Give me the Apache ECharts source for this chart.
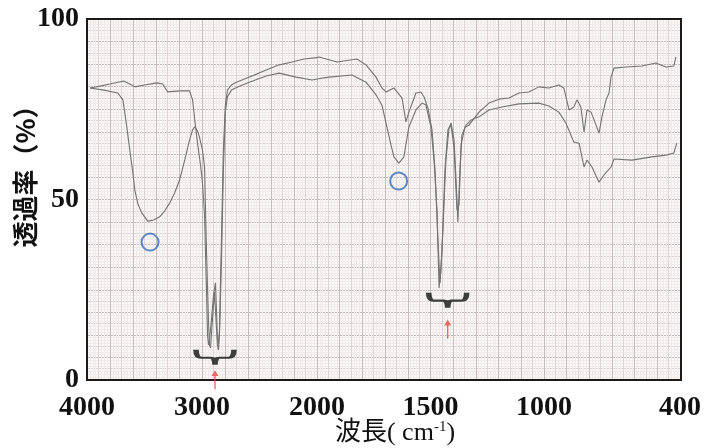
<!DOCTYPE html>
<html><head><meta charset="utf-8">
<script src="https://cdn.jsdelivr.net/npm/echarts@6/dist/echarts.min.js"></script>
<style>html,body{margin:0;padding:0;background:#fff}#c{width:704px;height:448px}</style>
</head><body><div id="c"></div>
<script>
// ---- data (wavenumber in cm-1, transmittance in %) ----
const wavenumberA = [3974,3853,3732,3688,3662,3645,3628,3602,3584,3558,3524,3472,3420,3368,3325,3281,3238,3195,3152,3108,3082,3065,3039,3022,2996,2978,2961,2944,2935,2926,2918,2900,2892,2883,2866,2857,2848,2831,2814,2797,2779,2745,2675,2589,2442,2329,2182,2043,2000,1947,1846,1784,1740,1714,1692,1674,1661,1639,1617,1595,1564,1537,1520,1498,1484,1471,1462,1454,1445,1432,1418,1409,1396,1387,1379,1370,1361,1343,1321,1286,1242,1185,1110,1022,978,934,903,868,845,823,810,788,757,735,704,691,612,524,462,427,414];
const transA = [80.9,80.3,79.5,77.6,72.0,67.9,63.7,57.6,52.6,48.8,46.3,44.0,44.3,45.2,46.8,49.0,51.8,55.4,60.7,66.5,69.3,70.1,69.0,67.3,63.7,59.0,36.0,16.6,9.7,8.9,12.5,20.8,24.4,19.4,9.7,8.3,12.5,33.2,58.2,74.2,78.4,80.3,81.4,82.5,84.2,85.0,83.9,83.1,83.4,83.9,84.5,82.5,79.0,76.2,70.1,65.1,61.8,60.1,61.8,70.1,74.8,76.7,76.2,70.1,60.9,47.1,25.5,29.9,41.6,60.9,69.8,71.2,66.5,55.4,43.8,58.2,67.9,70.6,72.0,72.9,74.8,75.6,76.5,76.7,75.9,74.2,71.2,65.9,65.6,59.0,60.9,59.0,54.8,56.8,59.0,61.2,60.9,61.8,62.3,62.9,65.6];
const wavenumberB = [3974,3887,3801,3732,3680,3628,3584,3498,3394,3342,3299,3195,3108,3082,3056,3039,3013,2996,2978,2961,2952,2944,2935,2918,2900,2883,2874,2866,2857,2848,2831,2814,2797,2779,2745,2701,2615,2520,2442,2329,2216,2113,2000,1991,1912,1824,1784,1740,1714,1696,1661,1625,1608,1595,1564,1542,1528,1511,1493,1480,1467,1458,1449,1436,1423,1409,1396,1383,1374,1365,1348,1330,1286,1242,1198,1154,1110,1066,1022,978,934,912,889,868,854,837,823,810,792,770,757,744,726,713,704,691,638,568,506,462,427,418];
const transB = [80.9,81.4,82.0,82.5,82.8,82.0,81.2,81.7,82.3,82.0,79.8,80.1,80.1,77.6,70.1,65.6,59.6,54.6,45.7,24.9,12.5,9.7,11.1,16.6,23.5,26.9,19.4,11.6,10.0,13.9,38.8,63.7,76.2,80.3,81.7,82.5,83.6,84.8,85.9,87.3,88.1,88.9,89.3,89.5,88.1,88.9,87.3,83.9,80.9,79.8,80.9,78.1,71.5,74.2,79.5,79.8,78.4,75.3,69.3,58.2,38.8,26.9,36.0,58.2,69.3,70.6,64.3,47.1,48.5,65.1,70.1,70.6,74.2,76.7,77.8,78.1,79.5,79.8,81.2,80.9,81.7,80.9,74.8,75.6,77.6,75.6,68.7,74.8,74.2,70.6,68.4,72.9,77.6,79.5,83.9,86.4,86.7,87.0,87.8,86.7,87.0,89.5];
const xTickLabels = [4000, 3000, 2000, 1500, 1000, 400];
const yTickLabels = [0, 50, 100];
// annotation anchors (wavenumber, %)
const circleMarks = [[3452, 38.2], [1640, 55.1]];
const braceMarks = [[2887, 6.3], [1424, 22.1]];
const arrowMarks = [[2887, 0.1], [1424, 14.1]];

// ---- helpers ----
function pairs(wn, t, lo, hi) {
  const out = [];
  for (let i = 0; i < wn.length; i++) if (wn[i] >= lo && wn[i] <= hi) out.push([wn[i], t[i]]);
  return out;
}
const SPLIT = 2000;
const lineColor = '#737373';
const fine = '#f0ebeb', mid = '#ddd5d5', dark = '#c6bebe';
const labelFont = { fontFamily: '"Liberation Serif", serif', fontWeight: 'bold', fontSize: 28, color: '#111' };

const chart = echarts.init(document.getElementById('c'), null, { renderer: 'canvas' });

function xAxes(grid, min, max, step, showLabels, hideLabel) {
  return [
    {
      gridIndex: grid, type: 'value', min: min, max: max, inverse: true, interval: step,
      axisLine: { show: true, onZero: false, lineStyle: { color: '#111', width: 2 } },
      axisTick: { show: false },
      axisLabel: {
        show: showLabels, margin: 14, ...labelFont,
        formatter: v => (xTickLabels.indexOf(v) >= 0 && v !== hideLabel) ? String(v) : ''
      },
      splitLine: { show: true, lineStyle: { color: mid, width: 1 } },
      minorTick: { show: false, splitNumber: 4 },
      minorSplitLine: { show: true, lineStyle: { color: fine, width: 1 } }
    },
    {
      gridIndex: grid, type: 'value', min: min, max: max, inverse: true, interval: step * 2,
      axisLine: { show: false }, axisTick: { show: false }, axisLabel: { show: false },
      splitLine: { show: true, lineStyle: { color: dark, width: 1 } }
    }
  ];
}
function yAxes(grid, showAxis) {
  return [
    {
      gridIndex: grid, type: 'value', min: 0, max: 100, interval: 3.125,
      axisLine: { show: showAxis, lineStyle: { color: '#111', width: 2 } },
      axisTick: { show: false },
      axisLabel: {
        show: showAxis, margin: 8, ...labelFont,
        formatter: v => yTickLabels.indexOf(v) >= 0 ? String(v) : ''
      },
      splitLine: { show: true, lineStyle: { color: mid, width: 1 } },
      minorTick: { show: false, splitNumber: 4 },
      minorSplitLine: { show: true, lineStyle: { color: fine, width: 1 } }
    },
    {
      gridIndex: grid, type: 'value', min: 0, max: 100, interval: 6.25,
      axisLine: { show: false }, axisTick: { show: false }, axisLabel: { show: false },
      splitLine: { show: true, lineStyle: { color: dark, width: 1 } }
    }
  ];
}

function lineSeries(name, data, xi, yi) {
  return {
    name: name, type: 'line', xAxisIndex: xi, yAxisIndex: yi, data: data,
    showSymbol: false, symbol: 'none', silent: true, z: 5,
    lineStyle: { color: lineColor, width: 1.1 }
  };
}
function markSeries(marks, opts) {
  const s1 = marks.filter(m => m[0] >= SPLIT), s2 = marks.filter(m => m[0] < SPLIT);
  return [
    Object.assign({ type: 'scatter', xAxisIndex: 1, yAxisIndex: 1, data: s1, silent: true, clip: false, z: 8 }, JSON.parse(JSON.stringify(opts))),
    Object.assign({ type: 'scatter', xAxisIndex: 3, yAxisIndex: 3, data: s2, silent: true, clip: false, z: 8 }, JSON.parse(JSON.stringify(opts)))
  ];
}

const bracePath = 'path://M0,0 Q0,8 5,8 L15,8 Q19,8 19,15 Q19,8 23,8 L33,8 Q38,8 38,0';
const arrowPath = 'path://M5,0 L10,8 L6,8 L6,26 L4,26 L4,8 L0,8 Z';

const option = {
  animation: false,
  backgroundColor: '#ffffff',
  grid: [
    { left: 87, top: 19, width: 594, height: 361, show: true, z: 6, backgroundColor: 'transparent', borderColor: '#1a1a1a', borderWidth: 2 },
    { left: 87, top: 19, width: 230, height: 361, show: true, backgroundColor: '#fbf8f8', borderWidth: 0 },
    { left: 317, top: 19, width: 364, height: 361, show: true, backgroundColor: '#fbf8f8', borderWidth: 0 }
  ],
  xAxis: [
    { gridIndex: 0, type: 'value', show: false, min: 0, max: 1 },
    ...xAxes(1, 2000, 4000, 100, true, -1),
    ...xAxes(2, 400, 2000, 50, true, 2000)
  ],
  yAxis: [
    { gridIndex: 0, type: 'value', show: false, min: 0, max: 1 },
    ...yAxes(1, true),
    ...yAxes(2, false)
  ],
  graphic: [
    {
      type: 'text', x: 395, y: 433, z: 10,
      style: {
        text: '{a|波長( cm}{s|-1}{a|)}', align: 'center', verticalAlign: 'middle',
        rich: {
          a: { fontSize: 26, fontFamily: '"Liberation Serif", "Noto Sans CJK JP", serif', fill: '#111' },
          s: { fontSize: 15, fontFamily: '"Liberation Serif", serif', fill: '#111', verticalAlign: 'top', padding: [0, 0, 9, 0] }
        }
      }
    },
    {
      type: 'text', x: 25, y: 170, rotation: Math.PI / 2, z: 10,
      style: {
        text: '透過率（%）', align: 'center', verticalAlign: 'middle',
        font: 'bold 26px "Noto Sans CJK JP"', fill: '#111'
      }
    }
  ],
  series: [
    lineSeries('A', pairs(wavenumberA, transA, SPLIT, 4000), 1, 1),
    lineSeries('A', pairs(wavenumberA, transA, 400, SPLIT), 3, 3),
    lineSeries('B', pairs(wavenumberB, transB, SPLIT, 4000), 1, 1),
    lineSeries('B', pairs(wavenumberB, transB, 400, SPLIT), 3, 3),
    ...markSeries(circleMarks, { symbol: 'circle', symbolSize: 17, itemStyle: { color: 'rgba(0,0,0,0)', borderColor: '#3b6db3', borderWidth: 2 } }),
    ...markSeries(braceMarks, { symbol: bracePath, symbolSize: [38, 15], itemStyle: { color: 'rgba(0,0,0,0)', borderColor: '#111', borderWidth: 3.5 } }),
    ...markSeries(arrowMarks, { symbol: arrowPath, symbolSize: [7, 19], itemStyle: { color: '#e5483f' } })
  ]
};
chart.setOption(option);
</script></body></html>
